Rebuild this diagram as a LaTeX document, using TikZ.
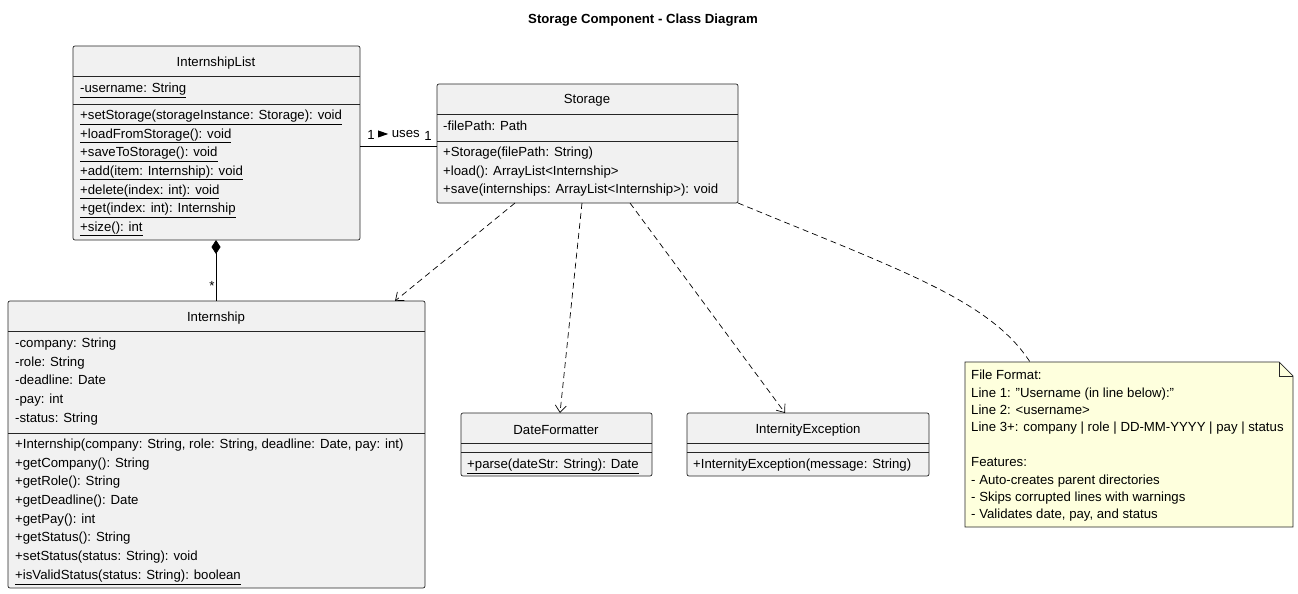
\documentclass[tikz,border=0pt]{standalone}
\usepackage{fontspec}
\setmainfont{Liberation Sans}
\usetikzlibrary{arrows.meta,positioning}
\definecolor{clsfill}{RGB}{241,241,241}
\definecolor{notefill}{RGB}{254,255,221}
\begin{document}
\begin{tikzpicture}[x=1pt,y=-1pt,
  box/.style={draw=black!85,fill=clsfill,rounded corners=2pt,line width=0.7pt},
  sep/.style={draw=black!85,line width=0.7pt},
  mem/.style={anchor=west,inner sep=0pt,text height=7pt,text depth=2.5pt,yshift=-1.5pt,font=\fontsize{13.2}{16}\selectfont},
  ttl/.style={inner sep=0pt,yshift=-1pt,font=\fontsize{13.2}{16}\selectfont},
  dep/.style={dash pattern=on 6pt off 4pt,line width=0.7pt,-{Straight Barb[length=7pt,width=11pt]}}]
\useasboundingbox (0,0) rectangle (1298,594);

\node[inner sep=0pt,font=\fontsize{13.2}{16}\selectfont\bfseries] (title) at (643,20) {Storage Component - Class Diagram};

%InternshipList
\draw[box] (73,46) rectangle (360,240);
\node[ttl] (ilname) at (216,62) {InternshipList};
\draw[sep] (73,76) -- (360,76);
\node[mem] (ilu) at (80,89) {\underline{-username: String}};
\draw[sep] (73,104) -- (360,104);
\foreach \t [count=\i from 0] in {{setStorage(storageInstance: Storage): void},{loadFromStorage(): void},{saveToStorage(): void},{add(item: Internship): void},{delete(index: int): void},{get(index: int): Internship},{size(): int}}
  \node[mem] (ilm\i) at (80,116+18.6*\i) {\underline{+\t}};
\coordinate (ilE) at (360,146);
\coordinate (ilS) at (216,240);

%Storage
\draw[box] (437,84) rectangle (738,203);
\node[ttl] (stname) at (587,99) {Storage};
\draw[sep] (437,114) -- (738,114);
\node[mem] (stf) at (443,127) {-filePath: Path};
\draw[sep] (437,141) -- (738,141);
\node[mem] (stm0) at (443,153) {+Storage(filePath: String)};
\node[mem] (stm1) at (443,172) {+load(): ArrayList<Internship>};
\node[mem] (stm2) at (443,190) {+save(internships: ArrayList<Internship>): void};
\coordinate (stW) at (437,146);

%Internship
\draw[box] (8,301) rectangle (425,588);
\node[ttl] (inname) at (216,317) {Internship};
\draw[sep] (8,331) -- (425,331);
\foreach \t [count=\i from 0] in {{-company: String},{-role: String},{-deadline: Date},{-pay: int},{-status: String}}
  \node[mem] (ina\i) at (15,344+18.6*\i) {\t};
\draw[sep] (8,433) -- (425,433);
\foreach \t [count=\i from 0] in {{+Internship(company: String, role: String, deadline: Date, pay: int)},{+getCompany(): String},{+getRole(): String},{+getDeadline(): Date},{+getPay(): int},{+getStatus(): String},{+setStatus(status: String): void}}
  \node[mem] (inm\i) at (15,445+18.6*\i) {\t};
\node[mem] (inm7) at (15,576) {\underline{+isValidStatus(status: String): boolean}};

%DateFormatter
\draw[box] (461,413) rectangle (652,476);
\node[ttl] (dfname) at (556,429) {DateFormatter};
\draw[sep] (461,443) -- (652,443);
\draw[sep] (461,452) -- (652,452);
\node[mem] (dfm) at (467,465) {\underline{+parse(dateStr: String): Date}};

%InternityException
\draw[box] (687,413) rectangle (929,476);
\node[ttl] (iename) at (808,429) {InternityException};
\draw[sep] (687,443) -- (929,443);
\draw[sep] (687,452) -- (929,452);
\node[mem] (iem) at (693,465) {+InternityException(message: String)};

%note
\draw[line width=0.7pt,draw=black!85,fill=notefill] (965,362) -- (1279,362) -- (1293,376) -- (1293,527) -- (965,527) -- cycle;
\draw[line width=0.7pt,draw=black!85] (1279,362) -- (1279,376) -- (1293,376);
\foreach \t [count=\i from 0] in {{File Format:},{Line 1: \symbol{34}Username (in line below):\symbol{34}},{Line 2: <username>},{Line 3+: company | role | DD-MM-YYYY | pay | status},{},{Features:},{- Auto-creates parent directories},{- Skips corrupted lines with warnings},{- Validates date, pay, and status}}
  \node[mem] (nt\i) at (971,376+17.4*\i) {\t};

%connectors
\draw[line width=0.7pt] (ilE) -- (stW);
\node[ttl] (m1) at (371,134) {1};
\node[ttl] (m2) at (428,135) {1};
\node[ttl] (uses) at (399,133) {\tikz\fill (0,0)--(0,-7pt)--(10pt,-3.5pt)--cycle; uses};
\draw[line width=0.7pt,{Diamond[length=14pt,width=9pt]}-] (ilS) -- (216,301);
\node[ttl] (star) at (212,285) {*};
\draw[dep] (515,203) -- (395,301);
\draw[dep] (582,203) -- (560,413);
\draw[dep] (630,203) -- (785,413);
\draw[dash pattern=on 6pt off 4pt,line width=0.7pt] (738,203) .. controls (900,270) and (990,300) .. (1030,362);
\end{tikzpicture}
\end{document}
